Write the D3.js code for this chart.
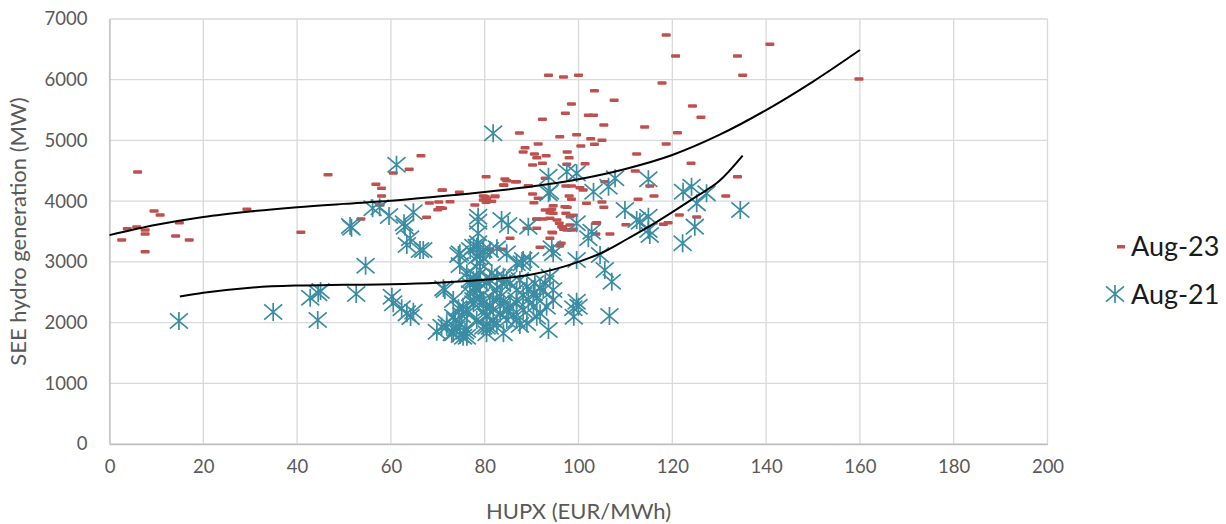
<!DOCTYPE html>
<html>
<head>
<meta charset="utf-8">
<script src="https://cdn.jsdelivr.net/npm/d3@7"></script>
<style>
	body { margin: 0; background: #fff; }
	text { font-family: Lato, "Open Sans", sans-serif; }
</style>
</head>
<body>
<div id="chart-area"></div>
<script>
// series names + ticks
var seriesNames = ['Aug-23', 'Aug-21'];
var xTicks = [0, 20, 40, 60, 80, 100, 120, 140, 160, 180, 200];
var yTicks = [0, 1000, 2000, 3000, 4000, 5000, 6000, 7000];

// [HUPX, MW]
var aug23 = [
	[6,4480],[2.6,3360],[3.8,3546],[5.8,3574],[7.6,3525],[7.6,3458],[7.6,3167],[9.5,3837],[10.8,3772],
	[14.1,3426],[14.9,3645],[17,3360],[29.3,3865],[40.8,3487],[46.6,4436],[53.6,3706],[56.8,4277],
	[58,4211],[58,4085],[57.7,3936],[60.5,4463],[63.9,4524],[66.4,4748],[70.9,4178],[74.6,4145],
	[68.2,3969],[70.2,3986],[72.6,3991],[70.5,3892],[70,3860],[67.6,3734],[77.9,3936],[80.3,4403],
	[80.1,4073],[80.4,4019],[82.2,4073],[84.3,4365],[84.1,4260],[86.5,4320],[87.4,5122],[88.2,4809],
	[88.6,4880],[90.6,4776],[91.4,4941],[92.3,5348],[93.1,4748],[90.2,4595],[92.3,4623],[89.3,4254],
	[90.2,4117],[93.6,6072],[96.8,6044],[100,6072],[98.5,5600],[97.2,5446],[96,5061],[99.6,5094],
	[100.5,4908],[97.6,4809],[98,4716],[97.5,4607],[103.4,5819],[107.6,5660],[102.1,5414],[103.2,5414],
	[105.4,5254],[114.1,5221],[102.6,5028],[105,5002],[103.4,4936],[112.4,4776],[101.4,4617],[112.1,4496],
	[92.9,4376],[97.3,4250],[98.5,4250],[100.3,4221],[101,4183],[105.6,4320],[116.1,4085],[112.7,4030],
	[98,4085],[98.5,4030],[101.7,3964],[105,3986],[105.4,3898],[94.6,3926],[94.3,3866],[93.9,3810],
	[97.6,3898],[92.5,3706],[91.1,3706],[97.3,3800],[98.9,3766],[95.9,3635],[96.4,3580],[94.5,3480],
	[98.5,3525],[103.7,3635],[106.7,3458],[110.1,3612],[118.7,6736],[120.7,6390],[133.9,6390],[135,6072],
	[117.8,5946],[124.3,5567],[126.1,5380],[121.1,5127],[118.7,4941],[124,4623],[133.9,4403],[131.4,4085],
	[121.5,3772],[125.2,3740],[118.1,3618],[119.1,3645],[115.2,4250],[140.8,6583],[159.8,6012],[84,4266],
	[89.3,4250],[71,4183],[79.7,4085],[80.4,4046],[82.2,4085],[81.5,3997],[79.7,4019],[80.3,3980],
	[90.5,3975],[91.4,4046],[85.4,3388],[91.1,3700],[81.1,3207],[83.6,3207],[91.8,3240],[96,3261],
	[92.9,3854],[94.6,3800],[93.9,3717],[95.4,3689],[97.1,3909],[98.2,3744],[96.6,3580],[98.2,3607],
	[94.3,3487],[91.1,3552],[89,3552],[93.9,3388],[97.5,3525],[96.3,3306],[103.9,3645],[103.7,3458],
	[96.8,3536],[98.9,3536],[71,3881],[84.7,4337],[86.8,4320],[91.1,4716]
];

var aug21 = [
	[14.8,2026],[34.9,2174],[42.8,2410],[44.5,2482],[45,2520],[44.4,2042],[52.6,2470],[54.6,2937],
	[51.6,3563],[51.3,3590],[56.1,3882],[57.6,3900],[59.6,3755],[61.2,4600],[60.2,2426],[60.5,2317],
	[62.3,2235],[63.4,2152],[64.8,2179],[64.2,2090],[81.8,5117],[62.8,3635],[64.8,3816],[63,3580],
	[64.1,3388],[63.4,3278],[66.2,3195],[93.6,4403],[97.5,4485],[99.6,4458],[93.6,4128],[78.6,3744],
	[78.6,3660],[83.6,3689],[85,3607],[89.3,3580],[78.6,3470],[74.7,3141],[76.9,3195],[78.3,3250],
	[79,3113],[81.1,3195],[82.6,3223],[84.7,3141],[88.2,3030],[86.8,2976],[94.3,3223],[94.6,3141],
	[71.2,2564],[69.8,1850],[70.8,1932],[71.9,1988],[73,1823],[74,1905],[74.7,1795],[75.8,1850],
	[76.2,1767],[73.7,2042],[75.1,2125],[74.4,2235],[76.2,2207],[76.9,2482],[77.6,2372],[78.3,2536],
	[79,2427],[79.7,2317],[80.4,2235],[80.4,2125],[80.4,1932],[78.3,2756],[79,2647],[77.6,2701],
	[76.9,2619],[79,2976],[79,2866],[78.3,3085],[79.7,3058],[81.1,2701],[82.6,2756],[83.7,2647],
	[84.7,2701],[81.8,2372],[83.3,2427],[84,2317],[85,2207],[86.1,2125],[86.8,2042],[87.5,1960],
	[81.8,2042],[83.3,2152],[81.1,1932],[86.8,2372],[88.2,2454],[89.3,2372],[90.4,2482],[91.1,2400],
	[91.8,2564],[92.9,2647],[93.9,2756],[93.2,2261],[94.6,2536],[93.6,1877],[94.6,2372],[98.9,2235],
	[99.6,2344],[99.6,3635],[102.8,3497],[102.1,3388],[99.6,3030],[104.6,3113],[105.6,2866],[107.1,2673],
	[100,2261],[99,2097],[106.6,2108],[109.9,3854],[113.1,3661],[114.9,3744],[115.2,3442],[114.9,3525],
	[122.2,3306],[124.8,3580],[125.2,3964],[134.5,3854],[114.9,4360],[122.3,4155],[124.1,4238],[127.3,4128],
	[93.9,4155],[106.4,4238],[107.8,4376],[103.2,4155],[112.4,3689],
	[66.9,3195],[74.4,3113],[77.6,3250],[78.6,3306],[79.7,3195],[74.7,2948],[87.9,2976],[89.7,3030],
	[71.5,2536],[76.2,2811],[76.9,2701],[77.9,2591],[80.4,2647],[81.5,2811],[82.6,2536],[84,2756],
	[85.4,2647],[86.8,2536],[87.5,2701],[89,2591],[90.7,2647],[92.5,2536],[73.3,2372],[75.4,2261],
	[77.6,2317],[79.7,2372],[81.1,2261],[83.3,2317],[85.4,2261],[86.8,2317],[88.2,2207],[90.4,2261],
	[91.8,2152],[71.9,1932],[73.3,1823],[74.7,1988],[76.2,1877],[78.3,2042],[79.7,1932],[80.4,2097],
	[82.6,1988],[84.7,2042],[89,1988],[91.1,2097],[75.4,1767],[80.4,1823],[84,1823],[76.2,2152],[73.3,2097]
];

// trend lines
var aug23Trend = [
	[0,3440],[10,3610],[20,3740],[30,3830],[40,3900],[50,3955],[60,4005],[70,4075],[80,4150],
	[90,4240],[100,4360],[110,4530],[120,4760],[130,5090],[140,5500],[150,5970],[160,6490]
];
var aug21Trend = [
	[15,2430],[20,2490],[30,2575],[40,2610],[50,2622],[60,2630],[70,2655],[80,2705],[90,2790],
	[95,2880],[100,3000],[105,3150],[110,3360],[115,3580],[120,3820],[125,4070],[130,4330],[135,4750]
];

var W = 1226, H = 524;
var margin = { top: 19, right: 178.5, bottom: 80, left: 109.5 },
	width = W - margin.left - margin.right,
	height = H - margin.top - margin.bottom;

var svg = d3.select('#chart-area')
	.append('svg')
		.attr('width', W)
		.attr('height', H);

var g = svg.append('g')
	.attr('transform', 'translate(' + margin.left + ', ' + margin.top + ')');

var xScale = d3.scaleLinear().domain([0, 200]).range([0, width]);
var yScale = d3.scaleLinear().domain([0, 7000]).range([height, 0]);

// gridlines
g.selectAll('.vgrid').data(xTicks).enter().append('line')
	.attr('x1', d => xScale(d)).attr('x2', d => xScale(d))
	.attr('y1', 0).attr('y2', height)
	.attr('stroke', '#d9d9d9').attr('stroke-width', 1.3);

g.selectAll('.hgrid').data(yTicks).enter().append('line')
	.attr('x1', 0).attr('x2', width)
	.attr('y1', d => yScale(d)).attr('y2', d => yScale(d))
	.attr('stroke', '#d9d9d9').attr('stroke-width', 1.3);

// axes
var xAxis = d3.axisBottom(xScale).tickValues(xTicks).tickSize(0).tickPadding(16);
var yAxis = d3.axisLeft(yScale).tickValues(yTicks).tickSize(0).tickPadding(22)
	.tickFormat(d3.format('d'));

var xg = g.append('g').attr('transform', 'translate(0, ' + height + ')').call(xAxis);
var yg = g.append('g').call(yAxis);
[xg, yg].forEach(a => {
	a.select('.domain').attr('stroke', '#bfbfbf').attr('stroke-width', 1.3);
	a.selectAll('text').attr('fill', '#595959').attr('font-size', '18.5px')
		.style('font-family', 'Lato, sans-serif');
});

// axis titles
g.append('text')
	.attr('x', width / 2)
	.attr('y', height + 75)
	.attr('text-anchor', 'middle')
	.attr('font-size', '22px')
	.attr('fill', '#595959')
	.text('HUPX (EUR/MWh)');

g.append('text')
	.attr('x', - height / 2)
	.attr('y', - margin.left + 26)
	.attr('transform', 'rotate(-90)')
	.attr('text-anchor', 'middle')
	.attr('font-size', '22px')
	.attr('fill', '#595959')
	.text('SEE hydro generation (MW)');

var red = '#c0504d', teal = '#3a8ca3';

// asterisk marker: vertical bar + X
var star = function(s) {
	var r = s / 2;
	return 'M0,' + (-r) + 'L0,' + r +
		'M' + (-r) + ',' + (-r * 0.85) + 'L' + r + ',' + (r * 0.85) +
		'M' + (-r) + ',' + (r * 0.85) + 'L' + r + ',' + (-r * 0.85);
};

// Aug-23 dashes
g.append('g').selectAll('rect').data(aug23).enter().append('rect')
	.attr('x', d => xScale(d[0]) - 4.5)
	.attr('y', d => yScale(d[1]) - 1.75)
	.attr('width', 9).attr('height', 3.5)
	.attr('rx', 1)
	.attr('fill', red);

// Aug-21 stars
g.append('g').selectAll('path').data(aug21).enter().append('path')
	.attr('transform', d => 'translate(' + xScale(d[0]) + ',' + yScale(d[1]) + ')')
	.attr('d', star(18))
	.attr('fill', 'none')
	.attr('stroke', teal)
	.attr('stroke-width', 1.7);

// trend lines
var line = d3.line()
	.x(d => xScale(d[0]))
	.y(d => yScale(d[1]))
	.curve(d3.curveMonotoneX);

[aug23Trend, aug21Trend].forEach(t => {
	g.append('path')
		.datum(t)
		.attr('d', line)
		.attr('fill', 'none')
		.attr('stroke', '#000')
		.attr('stroke-width', 2);
});

// legend
var legend = svg.append('g');
legend.append('rect')
	.attr('x', 1117).attr('y', 245).attr('width', 8).attr('height', 3.5).attr('fill', red);
legend.append('path')
	.attr('transform', 'translate(1115, 294)')
	.attr('d', star(18))
	.attr('fill', 'none').attr('stroke', teal).attr('stroke-width', 1.7);

legend.selectAll('.ltext').data(seriesNames).enter().append('text')
	.attr('x', 1131)
	.attr('y', (d, i) => 256 + i * 48)
	.attr('font-size', '27px')
	.attr('fill', '#1a1a1a')
	.text(d => d);
</script>
</body>
</html>
